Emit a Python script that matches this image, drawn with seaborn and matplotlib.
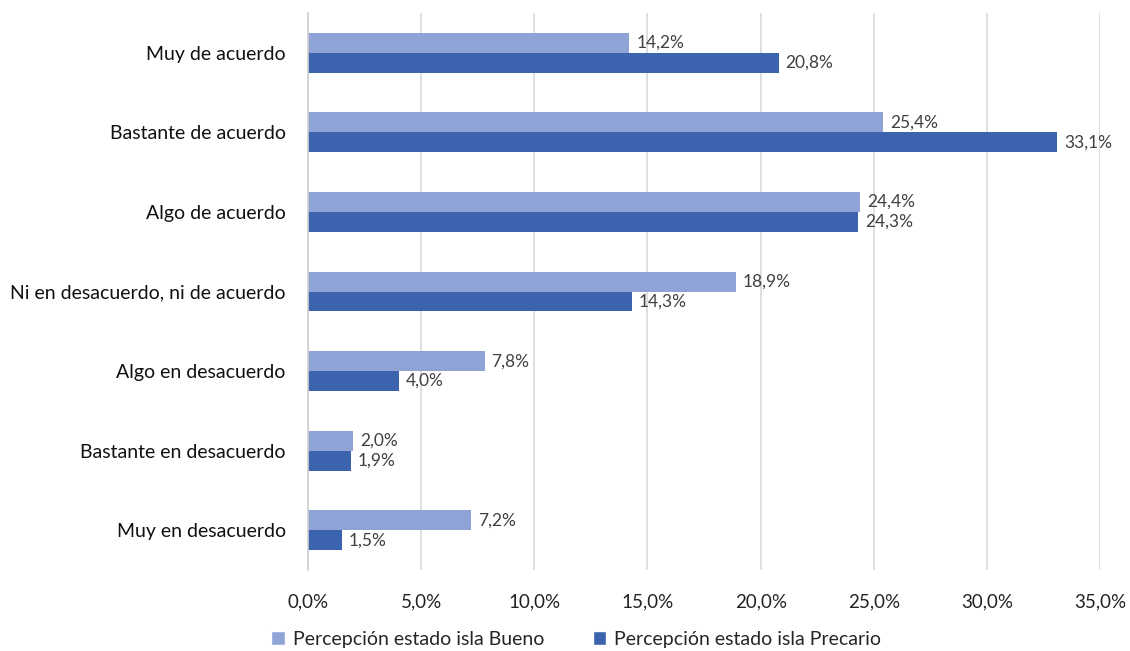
import matplotlib
matplotlib.use("Agg")
import matplotlib.pyplot as plt
import seaborn as sns
import pandas as pd
from matplotlib.patches import Patch

categories = ["Muy de acuerdo", "Bastante de acuerdo", "Algo de acuerdo",
              "Ni en desacuerdo, ni de acuerdo", "Algo en desacuerdo",
              "Bastante en desacuerdo", "Muy en desacuerdo"]
series_names = ["Percepción estado isla Bueno", "Percepción estado isla Precario"]
bueno = [14.2, 25.4, 24.4, 18.9, 7.8, 2.0, 7.2]
precario = [20.8, 33.1, 24.3, 14.3, 4.0, 1.9, 1.5]
x_ticks = [0, 5, 10, 15, 20, 25, 30, 35]
colors = ["#8FA3D6", "#3C64AE"]

rows = []
for c, b in zip(categories, bueno):
    rows.append({"cat": c, "serie": series_names[0], "val": b})
for c, p in zip(categories, precario):
    rows.append({"cat": c, "serie": series_names[1], "val": p})
df = pd.DataFrame(rows)

sns.set_style("white")
plt.rcParams["font.family"] = ["Lato", "DejaVu Sans"]

fig = plt.figure(figsize=(11.3, 6.51), dpi=100)
ax = fig.add_axes([0.2726, 0.1244, 0.7009, 0.8556])

sns.barplot(data=df, y="cat", x="val", hue="serie", order=categories,
            hue_order=series_names, palette=colors, orient="h",
            width=0.5, dodge=True, ax=ax, legend=False, saturation=1,
            linewidth=0)

for cont in ax.containers:
    labels = [f"{v:.1f}%".replace(".", ",") for v in cont.datavalues]
    ax.bar_label(cont, labels=labels, padding=5, fontsize=12.5, color="#404040")

ax.set_xlim(0, 35)
ax.set_ylim(len(categories) - 0.5, -0.5)
ax.set_xticks(x_ticks)
ax.set_xticklabels([f"{t:.1f}%".replace(".", ",") for t in x_ticks], fontsize=13.5, color="#222222")
ax.tick_params(axis="y", labelsize=14, length=0, pad=16, labelcolor="#111111")
ax.tick_params(axis="x", length=0, pad=17)
ax.set_xlabel("")
ax.set_ylabel("")
ax.grid(axis="x", color="#D9D9D9", linewidth=1.2)
ax.set_axisbelow(True)
for s in ["top", "right", "bottom"]:
    ax.spines[s].set_visible(False)
ax.spines["left"].set_color("#D0D0D0")
ax.spines["left"].set_linewidth(1.2)

handles = [Patch(facecolor=col, label=n) for col, n in zip(colors, series_names)]
fig.legend(handles=handles, loc="lower center", bbox_to_anchor=(0.51, -0.022), ncol=2,
           frameon=False, fontsize=14, handlelength=0.7, handleheight=0.7,
           handletextpad=0.4, columnspacing=2.5)

fig.savefig("out.png", dpi=100)
